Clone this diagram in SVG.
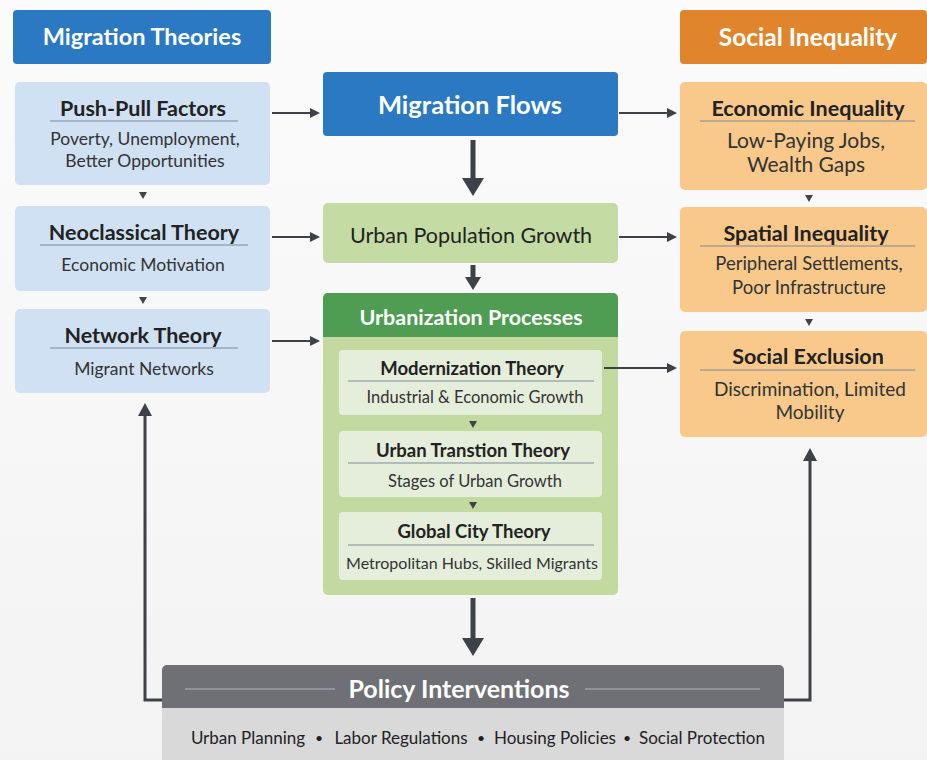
<svg xmlns="http://www.w3.org/2000/svg" width="927" height="760" viewBox="0 0 927 760">
<defs>
<marker id="ahb" viewBox="0 0 10 10" refX="8" refY="5" markerWidth="5" markerHeight="5" orient="auto"><path d="M0,0 L10,5 L0,10 Z" fill="#3d4148"/></marker>
<linearGradient id="bg" x1="0" y1="0" x2="0" y2="1"><stop offset="0" stop-color="#fbfbfb"/><stop offset="1" stop-color="#f3f3f3"/></linearGradient>
</defs>
<style>
text{font-family:Lato,"Open Sans","Liberation Sans",sans-serif;text-anchor:middle}
.hd{font-weight:bold;fill:#fff;font-size:23.5px}
.t{font-weight:bold;fill:#222;font-size:21.5px}
.s{fill:#333;font-size:17.5px}
.so{fill:#333;font-size:21px}
.it{font-weight:bold;fill:#222;font-size:18.5px}
.is{fill:#333;font-size:16.5px}
.pb{fill:#222;font-size:17px}
.rule{stroke:#7a8a99;stroke-width:1}
.con{stroke:#3d4148;stroke-width:2;fill:none}
.thick{stroke:#3d4148;stroke-width:5;fill:none}
.tri{fill:#444}
</style>
<rect width="927" height="760" fill="url(#bg)"/>

<g id="migration-theories">
<rect x="13" y="10" width="258" height="54" rx="4" fill="#2b79c2"/>
<text class="hd" x="142" y="45">Migration Theories</text>
</g>
<g id="push-pull">
<rect x="15" y="82" width="255" height="103" rx="5" fill="#cfe1f3"/>
<text class="t" x="143" y="116">Push-Pull Factors</text>
<line class="rule" x1="50" y1="121" x2="238" y2="121"/>
<text class="s" x="145" y="145">Poverty, Unemployment,</text>
<text class="s" x="145" y="167">Better Opportunities</text>
</g>
<g id="neoclassical">
<rect x="15" y="206" width="255" height="85" rx="5" fill="#cfe1f3"/>
<text class="t" x="144" y="240">Neoclassical Theory</text>
<line class="rule" x1="40" y1="245" x2="248" y2="245"/>
<text class="s" x="143" y="271">Economic Motivation</text>
</g>
<g id="network">
<rect x="15" y="309" width="255" height="84" rx="5" fill="#cfe1f3"/>
<text class="t" x="143" y="343">Network Theory</text>
<line class="rule" x1="50" y1="348" x2="238" y2="348"/>
<text class="s" x="144" y="375">Migrant Networks</text>
</g>

<g id="migration-flows">
<rect x="323" y="72" width="295" height="64" rx="4" fill="#2b79c2"/>
<text class="hd" x="470" y="114" style="font-size:25.5px">Migration Flows</text>
</g>
<g id="urban-population-growth">
<rect x="323" y="203" width="295" height="60" rx="5" fill="#c4dca3"/>
<text x="471" y="243" style="font-size:21.5px;fill:#222">Urban Population Growth</text>
</g>
<g id="urbanization-processes">
<rect x="323" y="293" width="295" height="302" rx="5" fill="#c2d9a0"/>
<path d="M328,293 H613 A5,5 0 0 1 618,298 V337 H323 V298 A5,5 0 0 1 328,293 Z" fill="#4e9d52"/>
<text class="hd" x="471" y="325" style="font-size:21.5px">Urbanization Processes</text>
</g>
<g id="modernization">
<rect x="339" y="350" width="263" height="65" rx="4" fill="#e5eedb"/>
<text class="it" x="472" y="375">Modernization Theory</text>
<line class="rule" x1="348" y1="381" x2="594" y2="381" stroke="#9aa58e"/>
<text class="is" x="475" y="403">Industrial &amp; Economic Growth</text>
</g>
<g id="urban-transition">
<rect x="339" y="431" width="263" height="66" rx="4" fill="#e5eedb"/>
<text class="it" x="473" y="457">Urban Transtion Theory</text>
<line class="rule" x1="348" y1="463" x2="594" y2="463" stroke="#9aa58e"/>
<text class="is" x="475" y="487">Stages of Urban Growth</text>
</g>
<g id="global-city">
<rect x="339" y="512" width="263" height="68" rx="4" fill="#e5eedb"/>
<text class="it" x="474" y="538">Global City Theory</text>
<line class="rule" x1="348" y1="545" x2="594" y2="545" stroke="#9aa58e"/>
<text class="is" x="472" y="569" style="font-size:16px">Metropolitan Hubs, Skilled Migrants</text>
</g>

<g id="social-inequality">
<rect x="680" y="10" width="247" height="54" rx="4" fill="#e0852c"/>
<text class="hd" x="808" y="46" style="font-size:24.5px">Social Inequality</text>
</g>
<g id="economic-inequality">
<rect x="680" y="82" width="247" height="108" rx="5" fill="#f8c98b"/>
<text class="t" x="808" y="116">Economic Inequality</text>
<line class="rule" x1="700" y1="121" x2="915" y2="121" stroke="#8a7a60"/>
<text class="so" x="806" y="148">Low-Paying Jobs,</text>
<text class="so" x="806" y="172">Wealth Gaps</text>
</g>
<g id="spatial-inequality">
<rect x="680" y="207" width="247" height="105" rx="5" fill="#f8c98b"/>
<text class="t" x="806" y="241">Spatial Inequality</text>
<line class="rule" x1="700" y1="246" x2="915" y2="246" stroke="#8a7a60"/>
<text class="s" x="809" y="270" style="font-size:18.5px">Peripheral Settlements,</text>
<text class="s" x="809" y="294" style="font-size:18.5px">Poor Infrastructure</text>
</g>
<g id="social-exclusion">
<rect x="680" y="331" width="247" height="106" rx="5" fill="#f8c98b"/>
<text class="t" x="808" y="364">Social Exclusion</text>
<line class="rule" x1="700" y1="370" x2="915" y2="370" stroke="#8a7a60"/>
<text class="s" x="810" y="396" style="font-size:19px">Discrimination, Limited</text>
<text class="s" x="810" y="419" style="font-size:19px">Mobility</text>
</g>

<g id="policy-interventions">
<rect x="162" y="665" width="622" height="100" rx="5" fill="#d9d9d9"/>
<path d="M167,665 H779 A5,5 0 0 1 784,670 V708 H162 V670 A5,5 0 0 1 167,665 Z" fill="#6e7075"/>
<line x1="185" y1="689" x2="335" y2="689" stroke="#9c9ea2" stroke-width="1.5"/>
<line x1="585" y1="689" x2="760" y2="689" stroke="#9c9ea2" stroke-width="1.5"/>
<text class="hd" x="459" y="698" style="font-size:25px">Policy Interventions</text>
<text class="pb" x="248" y="744">Urban Planning</text>
<text class="pb" x="319" y="743" style="font-size:14px">•</text>
<text class="pb" x="401" y="744">Labor Regulations</text>
<text class="pb" x="481" y="743" style="font-size:14px">•</text>
<text class="pb" x="555" y="744">Housing Policies</text>
<text class="pb" x="627" y="743" style="font-size:14px">•</text>
<text class="pb" x="702" y="744">Social Protection</text>
</g>

<g id="connectors">
<line class="con" x1="272" y1="113" x2="318" y2="113" marker-end="url(#ahb)"/>
<line class="con" x1="272" y1="237" x2="318" y2="237" marker-end="url(#ahb)"/>
<line class="con" x1="272" y1="341" x2="318" y2="341" marker-end="url(#ahb)"/>
<line class="con" x1="619" y1="113" x2="675" y2="113" marker-end="url(#ahb)"/>
<line class="con" x1="619" y1="237" x2="675" y2="237" marker-end="url(#ahb)"/>
<line class="con" x1="604" y1="368" x2="675" y2="368" marker-end="url(#ahb)"/>
<line class="thick" x1="473" y1="140" x2="473" y2="182"/>
<path d="M462,178 L484,178 L473,196 Z" fill="#3d4148"/>
<line class="thick" x1="473" y1="265" x2="473" y2="280"/>
<path d="M465,277 L481,277 L473,290 Z" fill="#3d4148"/>
<line class="thick" x1="473" y1="598" x2="473" y2="642"/>
<path d="M462,638 L484,638 L473,656 Z" fill="#3d4148"/>
<path class="con" d="M162,700 H145 V412" style="stroke-width:3"/>
<path d="M138,416 L145,403 L152,416 Z" fill="#3d4148"/>
<path class="con" d="M784,700 H810 V458" style="stroke-width:3"/>
<path d="M803,461 L810,448 L817,461 Z" fill="#3d4148"/>
<path class="tri" d="M139,192 L147,192 L143,199 Z"/>
<path class="tri" d="M139,297 L147,297 L143,304 Z"/>
<path class="tri" d="M805,195 L813,195 L809,202 Z"/>
<path class="tri" d="M805,319 L813,319 L809,326 Z"/>
<path class="tri" d="M469,421 L477,421 L473,428 Z"/>
<path class="tri" d="M469,502 L477,502 L473,509 Z"/>
</g>
</svg>
